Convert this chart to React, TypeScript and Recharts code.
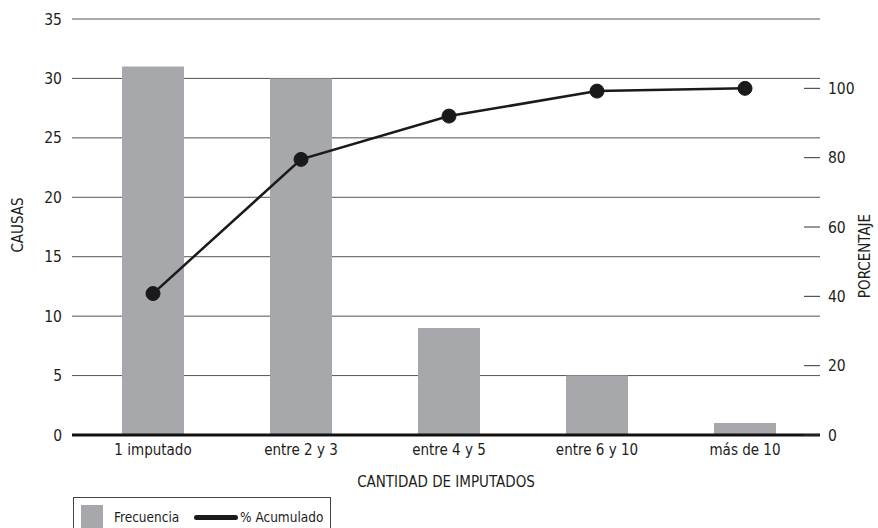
import {
  Bar,
  CartesianGrid,
  ComposedChart,
  Label,
  Legend,
  Line,
  XAxis,
  YAxis,
} from "recharts";

const FONT = '"DejaVu Sans Condensed", "Liberation Sans", sans-serif';
const TEXT = "#1d1d1b";
const BAR = "#a7a8ab";

const categorias = ["1 imputado", "entre 2 y 3", "entre 4 y 5", "entre 6 y 10", "más de 10"];
const frecuencia = [31, 30, 9, 5, 1];
const acumulado = [40.8, 79.5, 92, 99.2, 100];
const causasTicks = [0, 5, 10, 15, 20, 25, 30, 35];
const porcentajeTicks = [0, 20, 40, 60, 80, 100];

const data = categorias.map((name, i) => ({
  name,
  frecuencia: frecuencia[i],
  acumulado: acumulado[i],
}));

// right axis: short tick dash drawn inward, label outside
const RightTick = (props: any) => {
  const { x, y, payload } = props;
  return (
    <g>
      <line x1={x - 24} x2={x - 8} y1={y} y2={y} stroke="#333" strokeWidth={1} />
      <text x={x} y={y} dy="0.36em" textAnchor="start" fill={TEXT} fontSize={15.5} fontFamily={FONT}>
        {payload.value}
      </text>
    </g>
  );
};

const VerticalTitle = ({ viewBox, value, dx, dy }: any) => {
  const cx = viewBox.x + dx;
  const cy = viewBox.y + viewBox.height / 2 + dy;
  return (
    <text
      x={cx}
      y={cy}
      transform={`rotate(-90 ${cx} ${cy})`}
      textAnchor="middle"
      dominantBaseline="central"
      fill={TEXT}
      fontSize={15}
      fontFamily={FONT}
    >
      {value}
    </text>
  );
};

const LegendBox = () => (
  <div
    style={{
      border: "1px solid #444",
      borderBottom: "none",
      width: 258,
      height: 31,
      boxSizing: "border-box",
      position: "relative",
      fontFamily: FONT,
      fontSize: 13.5,
      color: TEXT,
      whiteSpace: "nowrap",
    }}
  >
    <div style={{ position: "absolute", left: 7, top: 7, width: 22, height: 24, background: BAR }} />
    <span style={{ position: "absolute", left: 40, top: 11, lineHeight: "16px" }}>Frecuencia</span>
    <div
      style={{
        position: "absolute",
        left: 120,
        top: 17,
        width: 44,
        height: 5,
        borderRadius: 3,
        background: "#1a1a1a",
      }}
    />
    <span style={{ position: "absolute", left: 166, top: 11, lineHeight: "16px" }}>% Acumulado</span>
  </div>
);

export default function App() {
  return (
    <div style={{ position: "absolute", left: 0, top: 0, width: 878, height: 528, background: "#fff" }}>
      <ComposedChart
        width={878}
        height={528}
        data={data}
        margin={{ top: 19, right: 0, bottom: 33, left: 0 }}
      >
        <CartesianGrid yAxisId="left" vertical={false} stroke="#555" strokeWidth={1} />
        <XAxis
          dataKey="name"
          padding={{ left: 7, right: 1 }}
          height={60}
          axisLine={{ stroke: "#111", strokeWidth: 3 }}
          tickLine={false}
          tickSize={0}
          tickMargin={9}
          tick={{ fill: TEXT, fontSize: 15, fontFamily: FONT }}
          interval={0}
        >
          <Label
            value="CANTIDAD DE IMPUTADOS"
            position="insideBottom"
            offset={8}
            style={{ fill: TEXT, fontSize: 15, fontFamily: FONT }}
          />
        </XAxis>
        <YAxis
          yAxisId="left"
          width={72}
          domain={[0, 35]}
          ticks={causasTicks}
          axisLine={false}
          tickLine={false}
          tickSize={0}
          tickMargin={10}
          tick={{ fill: TEXT, fontSize: 15.5, fontFamily: FONT }}
        >
          <Label content={(p: any) => <VerticalTitle {...p} value="CAUSAS" dx={18} dy={-2} />} />
        </YAxis>
        <YAxis
          yAxisId="right"
          orientation="right"
          width={58}
          domain={[0, 120]}
          ticks={porcentajeTicks}
          axisLine={false}
          tickLine={false}
          tickSize={0}
          tickMargin={8}
          tick={<RightTick />}
        >
          <Label content={(p: any) => <VerticalTitle {...p} value="PORCENTAJE" dx={45} dy={29} />} />
        </YAxis>
        <Bar
          yAxisId="left"
          dataKey="frecuencia"
          name="Frecuencia"
          fill={BAR}
          barSize={62}
          isAnimationActive={false}
        />
        <Line
          yAxisId="right"
          dataKey="acumulado"
          name="% Acumulado"
          stroke="#1a1a1a"
          strokeWidth={2.5}
          dot={{ r: 7, fill: "#1a1a1a", stroke: "#1a1a1a", strokeWidth: 1 }}
          activeDot={false}
          isAnimationActive={false}
        />
        <Legend
          layout="horizontal"
          verticalAlign="middle"
          align="center"
          content={<LegendBox />}
          wrapperStyle={{ left: 73, top: 497, width: 258, height: 31 }}
        />
      </ComposedChart>
    </div>
  );
}
